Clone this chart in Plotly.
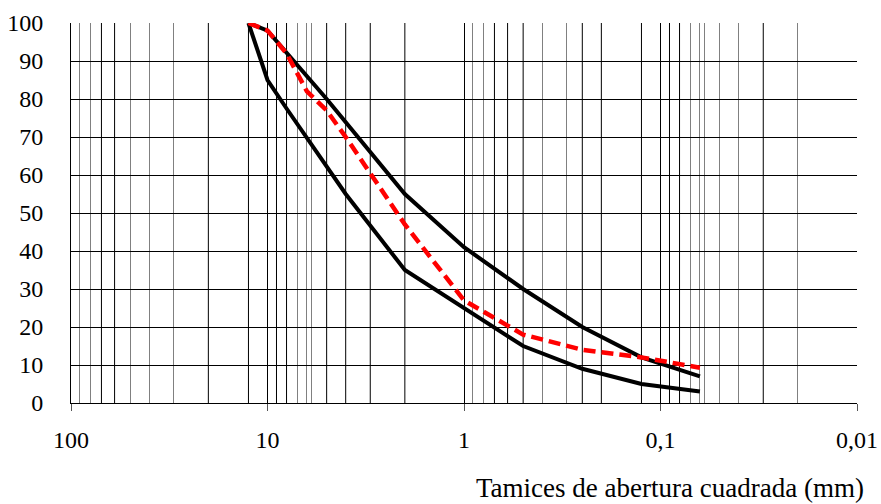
import plotly.graph_objects as go

# Sieve openings (mm)
sieves = [12.5, 10, 8, 6.3, 5, 4, 2, 1, 0.5, 0.25, 0.125, 0.063]

upper_x = [12.5, 10, 5, 2, 1, 0.5, 0.25, 0.125, 0.063]
upper_y = [100, 98, 80, 55, 41, 30, 20, 12, 7]

lower_x = [12.5, 10, 8, 4, 2, 1, 0.5, 0.25, 0.125, 0.063]
lower_y = [100, 85, 77.5, 55, 35, 25, 15, 9, 5, 3]

sample_x = [12.5, 10, 8, 6.3, 5, 4, 2, 1, 0.5, 0.25, 0.125, 0.063]
sample_y = [100, 98, 92, 82, 77, 70, 47, 27, 18, 14, 12, 9.3]

# Axis ticks
x_tickvals = [100, 10, 1, 0.1, 0.01]
x_ticktext = ["100", "10", "1", "0,1", "0,01"]
y_tickvals = [0, 10, 20, 30, 40, 50, 60, 70, 80, 90, 100]

# Vertical grid lines
black_vlines = [70, 60, 20, 12.5, 9, 8, 5, 4, 3, 2, 0.7, 0.6, 0.5, 0.25, 0.2,
                0.125, 0.09, 0.08, 0.03]
gray_vlines = [90, 80, 50, 40, 30, 7, 6.3, 6, 0.9, 0.8, 0.4, 0.3, 0.07, 0.063,
               0.06, 0.05, 0.04, 0.02]

fig = go.Figure()
fig.add_trace(go.Scatter(x=upper_x, y=upper_y, mode="lines",
                         line=dict(color="black", width=4), showlegend=False))
fig.add_trace(go.Scatter(x=lower_x, y=lower_y, mode="lines",
                         line=dict(color="black", width=4), showlegend=False))
fig.add_trace(go.Scatter(x=sample_x, y=sample_y, mode="lines",
                         line=dict(color="#ff0000", width=4.5, dash="12px,6px"),
                         showlegend=False))

for v in black_vlines:
    fig.add_shape(type="line", xref="x", yref="paper", x0=v, x1=v, y0=0, y1=1,
                  line=dict(color="black", width=1), layer="below")

font = dict(family="Liberation Serif", size=24, color="black")
title_font = dict(family="Liberation Serif", size=27, color="black")

fig.update_layout(
    width=881, height=504,
    margin=dict(l=71, r=24, t=23, b=101),
    paper_bgcolor="white", plot_bgcolor="white",
    font=font,
    xaxis=dict(
        type="log", range=[2, -2], automargin=False,
        tickvals=x_tickvals, ticktext=x_ticktext,
        ticks="outside", ticklen=7, tickcolor="#555", tickwidth=1,
        ticklabelstandoff=8,
        showgrid=True, gridcolor="black", gridwidth=1,
        showline=True, linecolor="black", linewidth=1,
        minor=dict(tickmode="array", tickvals=gray_vlines, showgrid=True,
                   gridcolor="#808080", gridwidth=1, ticks=""),
        zeroline=False,
        tickfont=font,
    ),
    yaxis=dict(
        range=[0, 100], tickvals=y_tickvals, automargin=False,
        showgrid=True, gridcolor="black", gridwidth=1,
        showline=True, linecolor="black", linewidth=1,
        ticks="", ticklabelstandoff=22,
        zeroline=False, tickfont=font,
    ),
    annotations=[dict(
        text="Tamices de abertura cuadrada (mm)", xref="paper", yref="paper",
        x=1, y=0, xanchor="right", yanchor="middle", xshift=9, yshift=-85,
        showarrow=False, font=title_font,
    )],
)

fig.write_html("out.html", config={"displayModeBar": False},
               post_script="document.body.style.margin='0';document.body.style.padding='0';")
